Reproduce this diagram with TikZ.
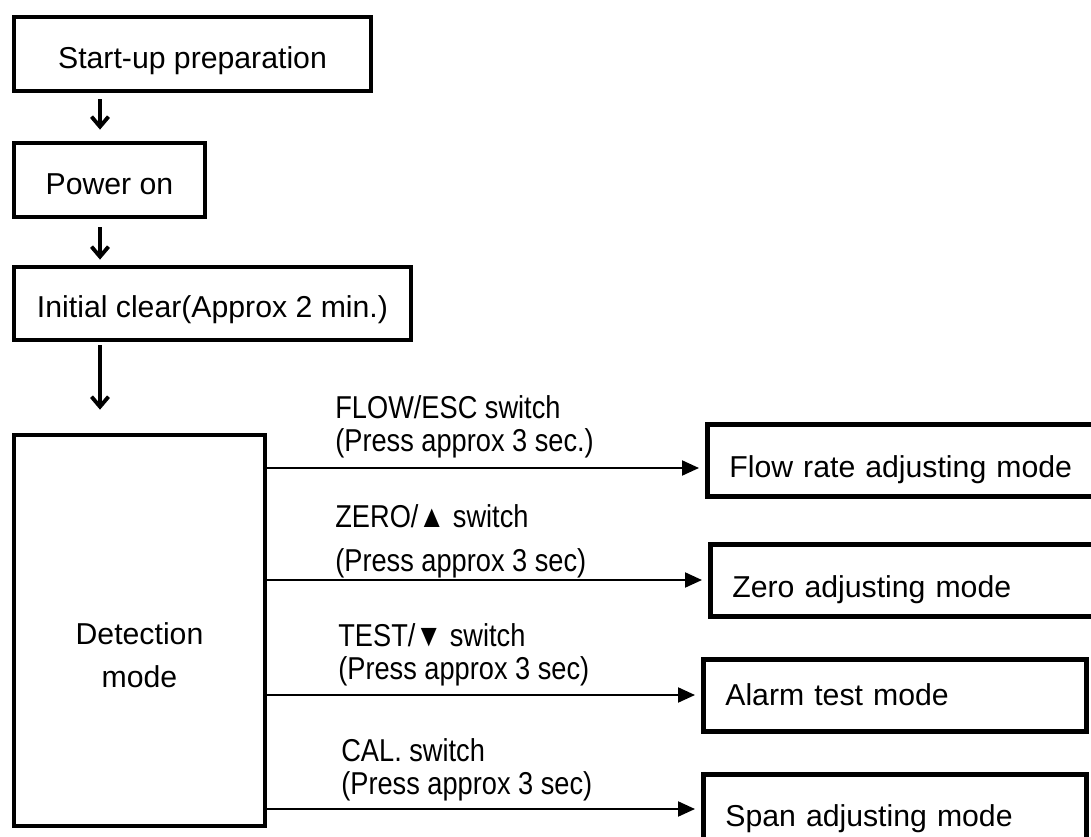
\documentclass[tikz,border=0pt]{standalone}
\usepackage{fontspec}
\setmainfont{Liberation Sans}
\newfontfamily\keyfont[FakeStretch=0.86]{Liberation Sans}
\usetikzlibrary{positioning,arrows.meta}
\tikzset{>=stealth}

\begin{document}
\begin{tikzpicture}[
	x=0.02cm, y=-0.02cm,
	box/.style = {% flow boxes
		draw, line width=2.7pt, inner sep=0pt, text height=0.6cm, text depth=0pt,
		font=\fontsize{17.2}{20}\selectfont,},
	modebox/.style = {% mode boxes, text on the left
		box, anchor=west, minimum height=1.44cm, inner xsep=0.44cm, align=left,},
	kl/.style = {% switch labels
		anchor=west, align=left, inner sep=0pt, font=\keyfont\fontsize{18}{18.6}\selectfont,},
	dn/.style = {% downward arrows
		-{Straight Barb[length=0.2cm,width=0.34cm]}, line width=2.2pt,},
	go/.style = {% switch arrows
		-{Triangle[length=0.34cm,width=0.3cm]}, line width=1.2pt, shorten >=0.12cm,},
	]
	\useasboundingbox (0,0) rectangle (1091,837);
	
	% left column
	\node[box, minimum width=7.14cm, minimum height=1.48cm] (start) at (192.5,54) {Start-up preparation};
	\node[box, minimum width=3.82cm, minimum height=1.48cm] (power) at (109.5,180) {Power on};
	\node[box, minimum width=7.94cm, minimum height=1.46cm, text height=0.58cm] (init) at (212.5,303.5) {Initial clear(Approx 2 min.)};
	\node[box, minimum width=5.02cm, minimum height=7.82cm,
		label={[name=dettxt, align=center, yshift=-0.5cm, font=\fontsize{17.2}{24.4}\selectfont]center:Detection\\mode}] (det) at (139.5,630.5) {};
	
	% mode boxes
	\node[modebox, text width=7.6cm, text height=0.7cm] (flow) at (705,460.5) {Flow rate adjusting mode};
	\node[modebox, text width=7.6cm, text height=0.7cm] (zero) at (708,580.5) {Zero adjusting mode};
	\node[modebox, text width=6.78cm, text height=0.4cm] (alarm) at (701,695.5) {Alarm test mode};
	\node[modebox, text width=6.78cm, text height=0.62cm] (span) at (701,810.5) {Span adjusting mode};
	
	% switch labels
	\node[kl] (kflow) at (335,427) {FLOW/ESC switch\\(Press approx 3 sec.)};
	\node[kl] (kzero) at (335,541) {ZERO/▲ switch\\[0.22cm](Press approx 3 sec)};
	\node[kl] (ktest) at (338,655) {TEST/▼ switch\\(Press approx 3 sec)};
	\node[kl] (kcal) at (341,770) {CAL. switch\\(Press approx 3 sec)};
	
	% arrows
	\coordinate (spine) at (100,0);
	\draw[dn, shorten <=0.12cm, shorten >=0.22cm] (start.south -| spine) -- (power.north -| spine);
	\draw[dn, shorten <=0.16cm, shorten >=0.1cm] (power.south -| spine) -- (init.north -| spine);
	\draw[dn, shorten <=0.06cm, shorten >=0.46cm] (init.south -| spine) -- (det.north -| spine);
	
	\draw[go] (det.east |- 0,468) -- (flow.west |- 0,468);
	\draw[go] (det.east |- 0,580) -- (zero.west |- 0,580);
	\draw[go] (det.east |- 0,695) -- (alarm.west |- 0,695);
	\draw[go] (det.east |- 0,809) -- (span.west |- 0,809);

\end{tikzpicture}
\end{document}
